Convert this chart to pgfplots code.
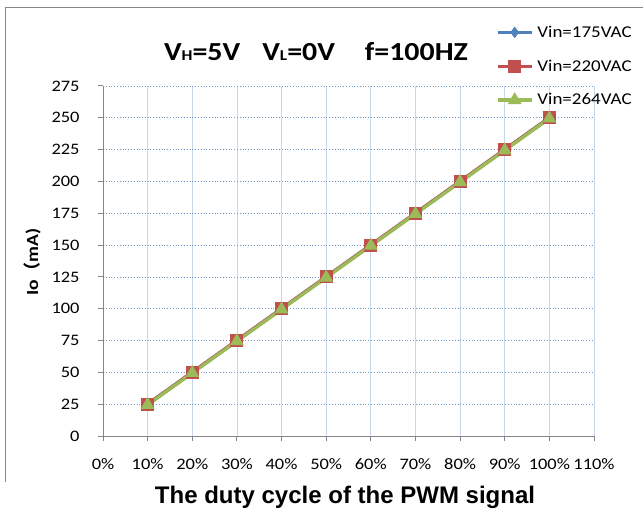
\documentclass[border=0pt]{standalone}
\usepackage{fontspec}
\setmainfont{Carlito}[FakeStretch=1.15]
\newfontfamily\arialb{Liberation Sans}[BoldFont={* Bold}]
\newfontfamily\cjk{Noto Sans CJK SC}
\usepackage{pgfplots}
\pgfplotsset{compat=1.18}
\definecolor{sblue}{HTML}{4F81BD}
\definecolor{sred}{HTML}{C0504D}
\definecolor{sgreen}{HTML}{9BBB59}
\definecolor{axgray}{HTML}{868686}
\definecolor{vgrid}{HTML}{C6D6EC}
\begin{document}
\begin{tikzpicture}
\useasboundingbox (0,0) rectangle (643bp,513bp);
\draw[axgray, line width=0.8bp] (5bp,31bp) -- (5bp,506bp) -- (643bp,506bp);
\begin{axis}[
  at={(103bp,77bp)}, anchor=south west,
  scale only axis, width=491bp, height=350bp,
  xmin=0, xmax=110, ymin=0, ymax=275,
  xtick={0,10,...,110}, ytick={0,25,...,275},
  xticklabel={\pgfmathprintnumber{\tick}\%},
  /pgf/number format/assume math mode=true,
  ticklabel style={font=\fontsize{16bp}{18bp}\selectfont},
  xticklabel style={yshift=-14bp},
  yticklabel style={xshift=-15bp},
  axis x line*=bottom, axis y line*=left,
  axis line style={axgray, line width=1bp, -},
  tick style={axgray, line width=1bp},
  tick align=outside, major tick length=5bp,
  xtick pos=bottom, ytick pos=left,
  x grid style={vgrid, line width=0.8bp},
  y grid style={sblue!80, line width=0.8bp, dotted},
  xmajorgrids, ymajorgrids,
  clip=false,
  legend style={at={(rel axis cs:0.800,1.175)}, anchor=north west, draw=none, fill=none,
    font=\fontsize{16.5bp}{18bp}\selectfont, row sep=19bp, inner sep=0pt,
    nodes={inner sep=1bp}},
  legend cell align=left,
  legend image code/.code={\draw[#1, mark repeat=2, mark phase=2] plot coordinates {(0bp,0bp) (17bp,0bp) (34bp,0bp)};},
]
\addplot[sblue, line width=3.4bp, mark=diamond*, mark size=5bp, mark options={solid, line width=1bp}]
  coordinates {(10,25) (20,50) (30,75) (40,100) (50,125) (60,150) (70,175) (80,200) (90,225) (100,250)};
\addlegendentry{\hspace{3bp}Vin=175VAC}
\addplot[sred, line width=3.4bp, mark=square*, mark size=6bp, mark options={solid, line width=1bp}]
  coordinates {(10,25) (20,50) (30,75) (40,100) (50,125) (60,150) (70,175) (80,200) (90,225) (100,250)};
\addlegendentry{\hspace{3bp}Vin=220VAC}
\addplot[sgreen, line width=3.4bp, mark=triangle*, mark size=7bp, mark options={solid, line width=1bp}]
  coordinates {(10,24.5) (20,49.5) (30,74.5) (40,99.5) (50,124.5) (60,149.5) (70,174.5) (80,199.5) (90,224.5) (100,249.5)};
\addlegendentry{\hspace{3bp}Vin=264VAC}
\end{axis}
\node at (316bp,461bp) {\bfseries\fontsize{26bp}{28bp}\selectfont V\fontsize{15bp}{15bp}\selectfont H\fontsize{26bp}{28bp}\selectfont =5V\hspace{22bp}V\fontsize{15bp}{15bp}\selectfont L\fontsize{26bp}{28bp}\selectfont =0V\hspace{30bp}f=100HZ};
\node[rotate=90] at (32bp,251bp) {\bfseries\fontsize{17bp}{19bp}\selectfont Io{\cjk\bfseries （}mA)};
\node at (345bp,16bp) {\arialb\bfseries\fontsize{24bp}{26bp}\selectfont The duty cycle of the PWM signal};
\end{tikzpicture}
\end{document}
